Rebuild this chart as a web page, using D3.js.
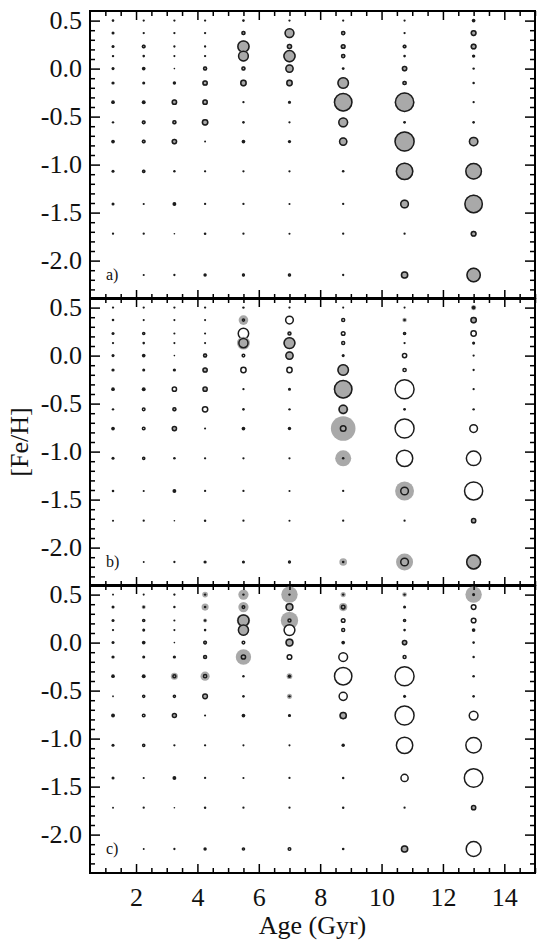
<!DOCTYPE html>
<html><head><meta charset="utf-8">
<script src="https://cdn.jsdelivr.net/npm/d3@7/dist/d3.min.js"></script>
<style>
body{margin:0;background:#fff}
</style>
</head><body>
<svg id="chart" width="560" height="942"></svg>
<script>
// ---------- data ----------
const ages = [1.25, 2.25, 3.25, 4.25, 5.5, 7.0, 8.75, 10.75, 13.0];
const fehBins = [0.5, 0.37, 0.23, 0.13, 0.0, -0.15, -0.35, -0.56, -0.76, -1.07, -1.41, -1.72, -2.15];
const xTicks = [2, 4, 6, 8, 10, 12, 14];
const yTicks = [0.5, 0.0, -0.5, -1.0, -1.5, -2.0];
const panelLabels = ["a)", "b)", "c)"];

// panel a: input weights (filled + outlined, identical)
const panelA = [
[0.6,0.4,0.4,0.4,0.6,0.4,0.4,0.4,1.7],
[1,0.4,0.4,0.4,4.8,25,5.3,0.4,9],
[1,4,0.4,0.4,38,7.3,6.3,4,9],
[0.5,0.6,0.3,0.4,30,38,5.3,0.6,1.4],
[1,1.7,0.1,4.8,4.8,18,0.8,7.8,0.5],
[1.2,1,1.4,7.8,11,11,34,5.3,0.5],
[1.7,2,7.8,7.8,0.4,2.3,85,94,0.4],
[0.5,4,4.8,11,0.6,0.4,25,0.8,0.6],
[1.7,4,7.8,0.2,1.7,1.2,18,100,23],
[1,3.2,0.5,0.4,0.4,0.4,0.6,76,69],
[1,0.3,2,0.4,0.4,0.3,0.4,20,85],
[0.4,0.4,0.1,0.6,0.4,0.3,0.4,0.4,9],
[0,0.3,0.4,1.4,2.6,2.9,0.4,14,52]
];

// panel b: outlined (ring) and grey (fill) weights
const panelBRing = [
[0.4,0.4,0.4,0.4,0.5,0.4,0.3,0.3,1.7],
[0.6,0.3,0.3,0.3,3.2,20,4.8,0.6,11],
[1,3.2,0.3,0.3,34,4.8,6.3,3.2,11],
[0.4,0.6,0.3,0.3,27,36,4.8,0.4,2.3],
[1,1.7,0.1,4.8,4,18,1,7.8,0.4],
[1.2,1,1.2,7.8,11,11,34,5.3,0.4],
[1.7,2,7.8,7.8,0.4,2.3,85,100,0.4],
[0.5,4,4.8,11,0.6,0.5,22,0.8,0.5],
[1.7,4,7.8,0.3,1.7,1.4,12,100,20],
[1,3.2,0.6,0.4,0.4,0.4,0.6,76,61],
[0.6,0.3,2,0.4,0.4,0.3,0.4,20,92],
[0.3,0.4,0.1,0.5,0.4,0.3,0.4,0.4,7.8],
[0,0.2,0.4,1.2,2.3,2.6,0.6,20,56]
];
const panelBFill = [
[0,0,0,0,0,0,0,0,6.3],
[0,0,0,0,22,0,0,4.8,11],
[0,0,0,0,0,2.3,0,2.3,0],
[0,0,0,0,40,36,0,0,1.4],
[0,0,0,4.8,0,18,0,0,0],
[0,0,0,6.3,0,0,34,0,0],
[0,0,0,4,0,0,85,0,0],
[0,0,4,0,0,0,25,0,0],
[0,0,6.3,0,0,0,144,0,0],
[0,0,0,0,0,0,61,0,0],
[0,0,0,0,0,0,0,85,0],
[0,0,0,0,0,0,0,0,6.3],
[0,0,0,0,0,0,14,69,56]
];

// panel c: outlined (ring) and grey (fill) weights
const panelCRing = [
[0.2,0.3,0.3,0.5,0.5,0.5,0.5,0.5,2.3],
[1,0.5,0.5,0.6,4,16,6.3,1,9],
[1,3.2,0.3,0.5,38,4.8,6.3,3.2,9],
[0.4,1,0.3,0.6,32,36,4.8,0.6,1.7],
[1,1.7,0.1,4,4,16,1.7,7.8,0.6],
[1.2,1,1.2,4.8,7.8,9,25,4.8,0.5],
[1.7,2,4.8,5.3,0.5,1.4,85,100,0.6],
[0.1,3.2,3.2,9,0.6,0.5,22,1,0.6],
[2,4,7.3,0.3,1.7,2.3,14,100,25],
[1,3.2,0.4,0.4,0.3,0.3,1.4,76,69],
[1,0.3,2,0.4,0.3,0.4,0.5,18,96],
[0.2,0.4,0.1,0.5,0.4,0.4,0.5,0.4,7.8],
[0,0.2,0.4,1.4,3.2,4,0.6,14,64]
];
const panelCFill = [
[1,0,1.4,7.8,25,64,6.3,5.3,64],
[0,4,0,12,25,16,16,0,0],
[0,0,0,4,42,72,0,0,0],
[0,0,0,0,30,0,0,0,0],
[0,0,0,4,0,18,0,7.8,0],
[0,0,0,2.3,56,0,0,0,0],
[0,0,12,20,0,7.8,0,0,0],
[1,0,0,2.3,0,6.3,0,0,0],
[0,0,4,0,0,2.3,14,0,0],
[0,0,0,0,0,0,0,0,0],
[0,0,0,0,0,0,0,0,0],
[0,0,0,0,0,0,0,0,6.3],
[0,0,0,0,0,0,0,14,0]
];

const panels = [
  {ring: panelA, fill: panelA, label: panelLabels[0]},
  {ring: panelBRing, fill: panelBFill, label: panelLabels[1]},
  {ring: panelCRing, fill: panelCFill, label: panelLabels[2]}
];

// ---------- layout ----------
const FONT = "Liberation Serif";
const svg = d3.select("#chart");
const left = 90, right = 535;
const panelTops = [11, 298, 585], panelH = 288;
const x = d3.scaleLinear().domain([0.5, 15]).range([left, right]);
const rScale = d3.scaleSqrt().domain([0, 144]).range([0, 12.3]);
const GREY = "#a9a9a9", INK = "#1c1c1c", SW = 1.5;

const xMinor = d3.range(1, 15.01, 0.5).filter(v => v % 2 !== 0);
const yMinor = d3.range(-23, 6).map(v => v / 10).filter(v => Math.abs(v * 2 - Math.round(v * 2)) > 1e-6);

function styleAxis(g) {
  g.select(".domain").remove();
  g.attr("font-family", FONT);
  g.selectAll(".tick line").attr("stroke", "#000").attr("stroke-width", 1.5);
  g.selectAll(".tick text").attr("font-family", FONT).attr("font-size", 26).attr("fill", "#111");
}

panels.forEach((p, i) => {
  const top = panelTops[i];
  const y = d3.scaleLinear().domain([-2.4, 0.6]).range([top + panelH, top]);
  const g = svg.append("g");

  // marks
  fehBins.forEach((feh, ri) => {
    ages.forEach((age, ci) => {
      const rf = rScale(p.fill[ri][ci]);
      const rr = rScale(p.ring[ri][ci]);
      const cx = x(age), cy = y(feh);
      if (rr > SW) {
        g.append("circle").attr("cx", cx).attr("cy", cy).attr("r", rr - SW).attr("fill", "#fff");
      }
      if (rf > 0) {
        g.append("circle").attr("cx", cx).attr("cy", cy).attr("r", rf).attr("fill", GREY);
      }
      if (rr > SW) {
        g.append("circle").attr("cx", cx).attr("cy", cy).attr("r", rr - SW / 2)
          .attr("fill", "none").attr("stroke", INK).attr("stroke-width", SW);
      } else if (rr > 0) {
        g.append("circle").attr("cx", cx).attr("cy", cy).attr("r", rr + 0.5).attr("fill", INK);
      }
    });
  });

  // axes (inward ticks)
  styleAxis(g.append("g").attr("transform", `translate(0,${top + panelH})`)
    .call(d3.axisBottom(x).tickValues(xTicks).tickSize(-9).tickPadding(i === 2 ? 15 : 0)
      .tickFormat(i === 2 ? d3.format("d") : "")));
  styleAxis(g.append("g").attr("transform", `translate(0,${top + panelH})`)
    .call(d3.axisBottom(x).tickValues(xMinor).tickSize(-5).tickFormat("")));
  styleAxis(g.append("g").attr("transform", `translate(0,${top})`)
    .call(d3.axisTop(x).tickValues(xTicks).tickSize(-9).tickFormat("")));
  styleAxis(g.append("g").attr("transform", `translate(0,${top})`)
    .call(d3.axisTop(x).tickValues(xMinor).tickSize(-5).tickFormat("")));

  styleAxis(g.append("g").attr("transform", `translate(${left},0)`)
    .call(d3.axisLeft(y).tickValues(yTicks).tickSize(-10).tickPadding(8).tickFormat(d => d.toFixed(1))));
  styleAxis(g.append("g").attr("transform", `translate(${left},0)`)
    .call(d3.axisLeft(y).tickValues(yMinor).tickSize(-5).tickFormat("")));
  styleAxis(g.append("g").attr("transform", `translate(${right},0)`)
    .call(d3.axisRight(y).tickValues(yTicks).tickSize(-10).tickFormat("")));
  styleAxis(g.append("g").attr("transform", `translate(${right},0)`)
    .call(d3.axisRight(y).tickValues(yMinor).tickSize(-5).tickFormat("")));

  // frame
  g.append("rect").attr("x", left).attr("y", top).attr("width", right - left).attr("height", panelH)
    .attr("fill", "none").attr("stroke", "#000").attr("stroke-width", 2);

  // panel label
  g.append("text").attr("x", 106).attr("y", top + 269).attr("font-family", FONT)
    .attr("font-size", 16).attr("fill", "#111").text(p.label);
});

// axis titles
svg.append("text").attr("x", (left + right) / 2).attr("y", 934).attr("text-anchor", "middle")
  .attr("font-family", FONT).attr("font-size", 26).attr("fill", "#111").text("Age (Gyr)");
svg.append("text").attr("transform", "translate(28,442) rotate(-90)").attr("text-anchor", "middle")
  .attr("font-family", FONT).attr("font-size", 26).attr("fill", "#111").text("[Fe/H]");
</script>
</body></html>
